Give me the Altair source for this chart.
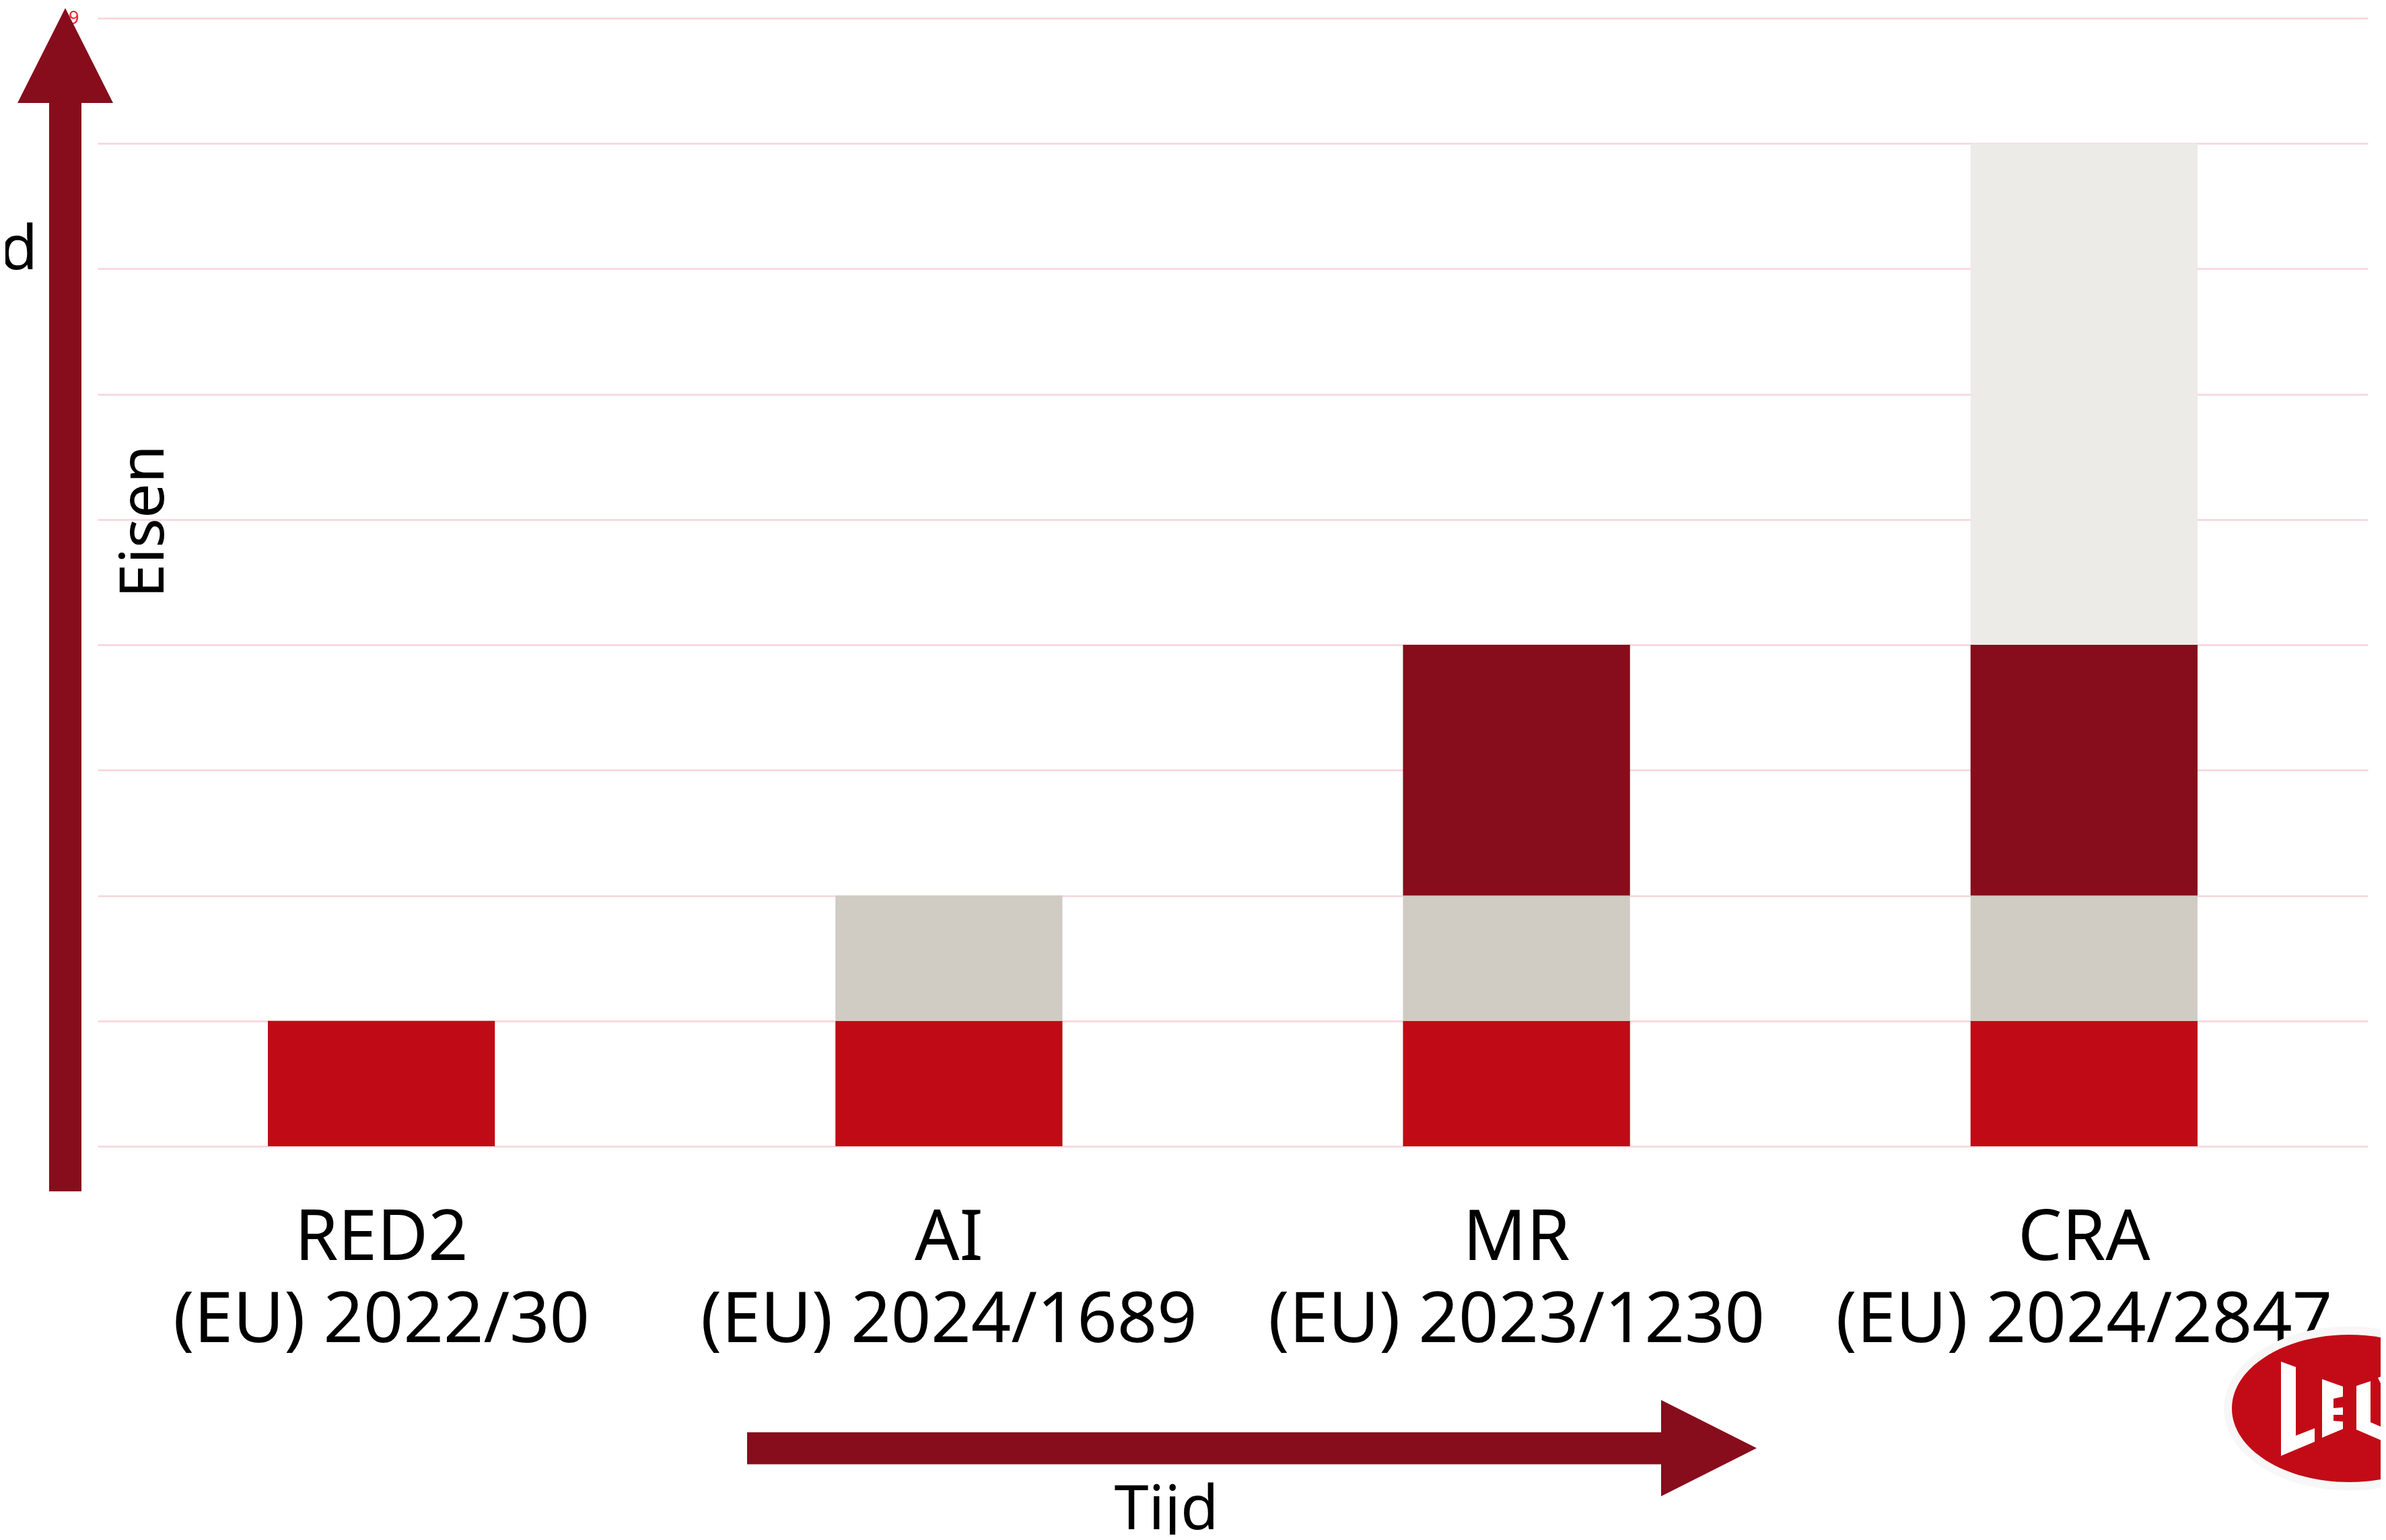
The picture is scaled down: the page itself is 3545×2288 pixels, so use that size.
import altair as alt
import pandas as pd

# ---------------- data ----------------
categories = ["RED2", "AI", "MR", "CRA"]
regulation_ids = ["(EU) 2022/30", "(EU) 2024/1689", "(EU) 2023/1230", "(EU) 2024/2847"]
layer_names = ["RED2", "AI", "MR", "CRA"]
layer_colors = ["#c00b17", "#d0ccc4", "#870d1c", "#ecebe7"]
red2_reqs = [1, 1, 1, 1]
ai_reqs = [0, 1, 1, 1]
mr_reqs = [0, 0, 2, 2]
cra_reqs = [0, 0, 0, 4]
y_ticks = [0, 1, 2, 3, 4, 5, 6, 7, 8, 9]

labels = [f"{c}|{r}" for c, r in zip(categories, regulation_ids)]
series = [red2_reqs, ai_reqs, mr_reqs, cra_reqs]
rows = []
for li, (lname, vals) in enumerate(zip(layer_names, series)):
    for lab, v in zip(labels, vals):
        if v > 0:
            rows.append({"label": lab, "layer": lname, "idx": li, "value": v})
df = pd.DataFrame(rows)

# ---------------- layout ----------------
W, H = 3373, 1676
PAD = {"left": 137, "top": 19, "right": 19, "bottom": 577}
OX, OY = 145, 27  # page position of plot origin
ARROW = "#870d1c"
FONT = "Noto Sans"


def px(x):
    return x - OX


def py(y):
    return y - OY


def poly_path(points, cx, cy, r=100.0):
    return "M" + " L".join(f"{(x - cx) / r:.4f},{(y - cy) / r:.4f}" for x, y in points) + " Z"


def ellipse_path(rx, ry):
    k = 0.5523
    return (f"M {-rx},0 C {-rx},{-k*ry:.4f} {-k*rx:.4f},{-ry} 0,{-ry} "
            f"C {k*rx:.4f},{-ry} {rx},{-k*ry:.4f} {rx},0 "
            f"C {rx},{k*ry:.4f} {k*rx:.4f},{ry} 0,{ry} "
            f"C {-k*rx:.4f},{ry} {-rx},{k*ry:.4f} {-rx},0 Z")


one = pd.DataFrame({"k": [0]})


def shape_layer(path, cx, cy, color, r=100.0):
    return alt.Chart(one).mark_point(
        shape=path, size=(2 * r) ** 2, filled=True, opacity=1, strokeWidth=0, color=color
    ).encode(x=alt.value(px(cx)), y=alt.value(py(cy)))


def text_layer(txt, x, y, size=92, angle=0, align="center", color="black", baseline="alphabetic"):
    return alt.Chart(one).mark_text(
        text=txt, fontSize=size, font=FONT, angle=angle, align=align,
        baseline=baseline, color=color
    ).encode(x=alt.value(px(x)), y=alt.value(py(y)))


# ---------------- bars ----------------
bars = alt.Chart(df).mark_bar(strokeWidth=0).encode(
    x=alt.X("label:N", sort=labels,
            scale=alt.Scale(paddingInner=0.6, paddingOuter=0.3),
            axis=alt.Axis(title=None, labelExpr="split(datum.label, '|')",
                          labelFont=FONT, labelFontSize=104, labelColor="black",
                          labelLineHeight=122, labelPadding=86, labelAngle=0,
                          labelBaseline="top", labelLimit=2000, labelOverlap=False,
                          labelBound=False, ticks=False, domain=False, grid=False)),
    y=alt.Y("value:Q", stack="zero",
            scale=alt.Scale(domain=[0, 9], nice=False),
            axis=alt.Axis(title=None, values=y_ticks, grid=True, gridColor="#f8d3da",
                          gridWidth=2.5, ticks=False, domain=False,
                          labelColor="#e62534", labelFont=FONT, labelFontSize=27,
                          labelPadding=28)),
    color=alt.Color("layer:N", scale=alt.Scale(domain=layer_names, range=layer_colors), legend=None),
    order=alt.Order("idx:Q", sort="ascending"),
)

# ---------------- decorations ----------------
v_arrow_pts = [(97, 12), (168, 153), (121, 153), (121, 1770), (73, 1770), (73, 153), (26, 153)]
h_arrow_pts = [(1110, 2128), (2468, 2128), (2468, 2080), (2610, 2151.5),
               (2468, 2223), (2468, 2175.5), (1110, 2175.5)]
v_arrow = shape_layer(poly_path(v_arrow_pts, 97, 900), 97, 900, ARROW)
h_arrow = shape_layer(poly_path(h_arrow_pts, 1860, 2151), 1860, 2151, ARROW)

LX, LY = 3490, 2092.5
halo = shape_layer(ellipse_path(1.0, 0.655), LX, LY, "#f7f7f7", r=186)
ellipse = shape_layer(ellipse_path(1.0, 0.629), LX, LY, "#c20b16", r=174)
L1 = [(3389, 2023), (3411, 2031), (3411, 2133), (3439, 2122), (3439, 2142), (3389, 2163)]
E1 = [(3450, 2049), (3481, 2060), (3481, 2075), (3467, 2078), (3467, 2092), (3481, 2091),
      (3481, 2102), (3467, 2102), (3467, 2111), (3481, 2112), (3481, 2123), (3450, 2136)]
L2 = [(3501, 2059), (3522, 2052), (3522, 2113), (3552, 2126), (3552, 2146), (3501, 2124)]
Y1 = [(3533, 2047), (3548, 2040), (3575, 2095), (3560, 2102)]
letters_path = " ".join(poly_path(p, LX, LY) for p in [L1, E1, L2, Y1])
letters = shape_layer(letters_path, LX, LY, "white")

eisen = text_layer("Eisen", 243, 775, angle=270)
tijd = text_layer("Tijd", 1733, 2272)
d_txt = text_layer("d", 56, 400, align="right")

chart = alt.layer(
    bars, v_arrow, h_arrow, halo, ellipse, letters, eisen, tijd, d_txt
).properties(
    width=W, height=H, padding=PAD,
    autosize=alt.AutoSizeParams(type="none"),
    background="white",
).configure_view(stroke="transparent")

chart.save("out.html", embed_options={"renderer": "svg", "actions": False})
